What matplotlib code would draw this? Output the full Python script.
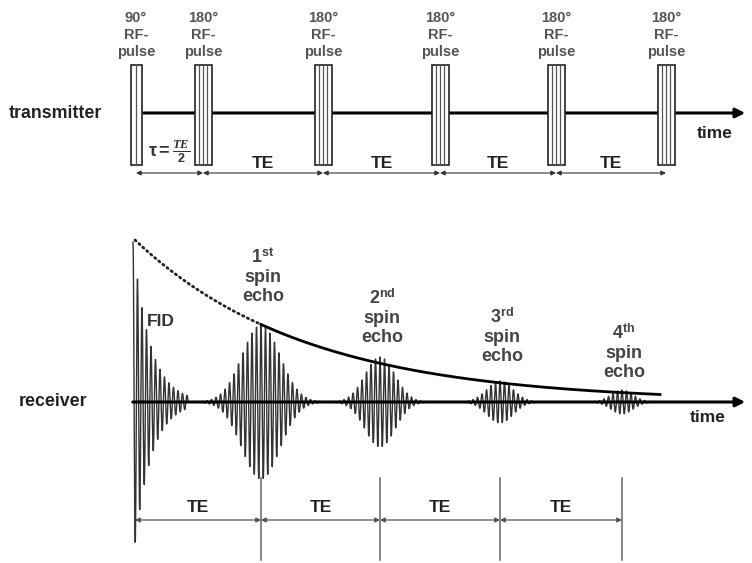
import numpy as np
import matplotlib.pyplot as plt
from matplotlib.patches import Rectangle

# transmitter: pulse positions (pixels) and labels
pulse_x = [136, 203, 323, 440, 556, 666]
pulse_w = [11, 17, 17, 17, 17, 17]
pulse_lbl = ["90°", "180°", "180°", "180°", "180°", "180°"]

# receiver: echo centres, peak amplitudes and widths
echo_x = [261, 380, 500, 622]
echo_amp = [77, 45, 21, 12]
echo_sig = [19, 15, 13, 11]
echo_lbl = [r"1$^{\mathbf{st}}$", r"2$^{\mathbf{nd}}$", r"3$^{\mathbf{rd}}$", r"4$^{\mathbf{th}}$"]
echo_lbl_y = [276, 317, 336, 352]
fid_x0, fid_amp, fid_decay = 133, 160, 17

# T2 envelope
env_amp0, env_T = 162, 171
env_end = 660

plt.rcParams['font.family'] = ['Liberation Sans', 'DejaVu Sans']
plt.rcParams['mathtext.fontset'] = 'custom'
plt.rcParams['mathtext.rm'] = 'Liberation Sans'
plt.rcParams['mathtext.it'] = 'Liberation Serif:italic:bold'
plt.rcParams['mathtext.bf'] = 'Liberation Sans:bold'

fig = plt.figure(figsize=(7.52, 5.63), dpi=100)
ax = fig.add_axes([0, 0, 1, 1])
ax.set_xlim(0, 752)
ax.set_ylim(563, 0)
ax.axis('off')

ty, ry = 113, 402          # baselines
p_top, p_bot = 65, 165

# transmitter line + arrow
ax.annotate('', xy=(748, ty), xytext=(pulse_x[0] + 5, ty),
            arrowprops=dict(arrowstyle='-|>', lw=2.2, color='black', mutation_scale=14))
ax.text(9, ty, 'transmitter', fontsize=12.8, fontweight='bold', va='center', color='#222')
ax.text(697, 133, 'time', fontsize=12.5, fontweight='bold', va='center', color='#222')

for x, w, lb in zip(pulse_x, pulse_w, pulse_lbl):
    ax.add_patch(Rectangle((x - w / 2, p_top), w, p_bot - p_top, facecolor='white',
                           edgecolor='#222', lw=1.2, zorder=3))
    n = 1 if w < 12 else 3
    for k in range(1, n + 1):
        xx = x - w / 2 + k * w / (n + 1)
        ax.plot([xx, xx], [p_top, p_bot], color='#555', lw=0.9, zorder=4)
    ax.text(x, 35, lb + "\nRF-\npulse", ha='center', va='center', fontsize=10.5,
            fontweight='bold', color='#555', linespacing=1.25)

# top timing arrows
ay = 173
for i in range(len(pulse_x) - 1):
    ax.annotate('', xy=(pulse_x[i + 1], ay), xytext=(pulse_x[i], ay),
                arrowprops=dict(arrowstyle='<|-|>', lw=0.8, color='#333',
                                mutation_scale=7, shrinkA=0, shrinkB=0))
    if i > 0:
        ax.text((pulse_x[i] + pulse_x[i + 1]) / 2, 163, 'TE', ha='center', va='center',
                fontsize=12.5, fontweight='bold', color='#222')
ax.text((pulse_x[0] + pulse_x[1]) / 2, 151, r'$\mathbf{\tau = \frac{\mathit{TE}}{2}}$',
        ha='center', va='center', fontsize=13, color='#333')

# receiver line + arrow
ax.annotate('', xy=(748, ry), xytext=(130, ry),
            arrowprops=dict(arrowstyle='-|>', lw=2.2, color='black', mutation_scale=14), zorder=5)
ax.text(19, ry, 'receiver', fontsize=12.8, fontweight='bold', va='center', color='#222')
ax.text(690, 418, 'time', fontsize=12.5, fontweight='bold', va='center', color='#222')

# FID
xf = np.linspace(fid_x0, fid_x0 + 55, 900)
yf = fid_amp * np.exp(-(xf - fid_x0) / fid_decay) * np.cos(2 * np.pi * (xf - fid_x0) / 4.5)
ax.plot(xf, ry - yf, color='#333', lw=1.0)
ax.text(147, 322, 'FID', fontsize=12.5, fontweight='bold', va='center', color='#333')

# echoes
for cx, a, s, lb, ly in zip(echo_x, echo_amp, echo_sig, echo_lbl, echo_lbl_y):
    xe = np.linspace(cx - 3.2 * s, cx + 3.2 * s, 1500)
    ye = a * np.exp(-0.5 * ((xe - cx) / s) ** 2) * np.cos(2 * np.pi * (xe - cx) / 4.5)
    ax.plot(xe, ry - ye, color='#333', lw=1.0)
    ax.text(cx + 2, ly, lb + "\nspin\necho", ha='center', va='center', fontsize=13,
            fontweight='bold', color='#444', linespacing=1.15)

# T2 envelope: dotted before first echo, solid after
xd = np.linspace(fid_x0 + 2, echo_x[0], 200)
ax.plot(xd, ry - env_amp0 * np.exp(-(xd - xd[0]) / env_T), color='#222', lw=2,
        ls=(0, (0.5, 1.4)), dash_capstyle='round')
xs = np.linspace(echo_x[0], env_end, 300)
ax.plot(xs, ry - env_amp0 * np.exp(-(xs - xd[0]) / env_T), color='black', lw=2)

# bottom TE markers
marks = [fid_x0 + 2] + echo_x
by = 520
for m in marks[1:]:
    ax.plot([m, m], [478, 560], color='#666', lw=1.1)
for i in range(len(marks) - 1):
    ax.annotate('', xy=(marks[i + 1], by), xytext=(marks[i], by),
                arrowprops=dict(arrowstyle='<|-|>', lw=0.9, color='#555',
                                mutation_scale=7, shrinkA=0, shrinkB=0))
    ax.text((marks[i] + marks[i + 1]) / 2, 507, 'TE', ha='center', va='center',
            fontsize=12.5, fontweight='bold', color='#222')

fig.savefig('out.png', dpi=100)
